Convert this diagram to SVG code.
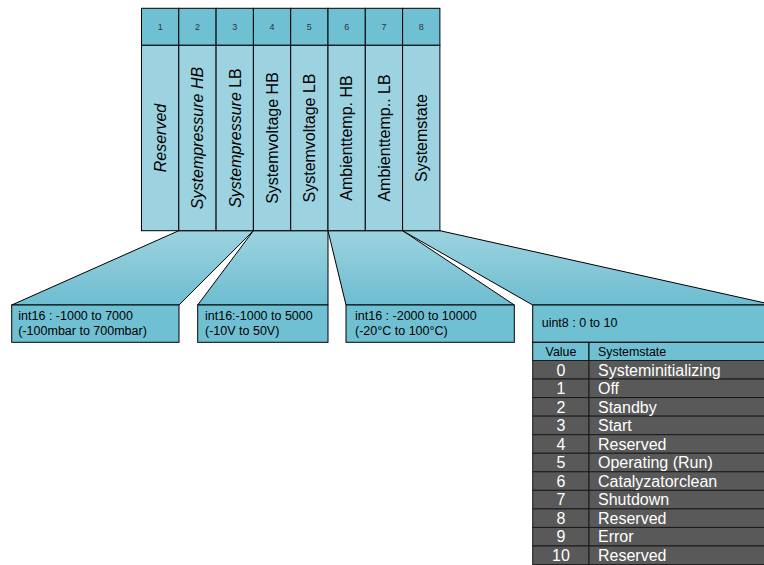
<svg xmlns="http://www.w3.org/2000/svg" width="764" height="565" viewBox="0 0 764 565">
  <style>
    .hd { fill: #70c0d3; stroke: #000; stroke-width: 1; }
    .bd { fill: #9dd3e0; stroke: #000; stroke-width: 1; }
    .fan { fill: url(#fanGrad); stroke: #000; stroke-width: 1; }
    .box { fill: #70c0d3; stroke: #000; stroke-width: 1; }
    .row { fill: #595959; stroke: #1a1a1a; stroke-width: 1; }
    .num { font-family: "Liberation Sans", Arial, sans-serif; font-size: 9px; fill: #333; text-anchor: middle; }
    .lbl { font-family: "Liberation Sans", Arial, sans-serif; font-size: 16px; fill: #000; text-anchor: middle; }
    .it { font-style: italic; }
    .bt { font-family: "Liberation Sans", Arial, sans-serif; font-size: 12.5px; fill: #000; }
    .th { font-family: "Liberation Sans", Arial, sans-serif; font-size: 12.4px; fill: #000; }
    .tv { font-family: "Liberation Sans", Arial, sans-serif; font-size: 16px; fill: #fff; text-anchor: middle; }
    .tn { font-family: "Liberation Sans", Arial, sans-serif; font-size: 16px; fill: #fff; }
  </style>
  <defs>
    <linearGradient id="fanGrad" gradientUnits="userSpaceOnUse" x1="0" y1="231" x2="0" y2="305">
      <stop offset="0" stop-color="#9dd3e0"/>
      <stop offset="1" stop-color="#6dbdd0"/>
    </linearGradient>
  </defs>

  <!-- fan-out connectors from the byte columns to the value descriptions -->
  <g id="connectors">
    <polygon class="fan" points="178.8,230.7 253.4,230.7 179,305 11.7,305"/>
    <polygon class="fan" points="253.4,230.7 328,230.7 328,305 197.7,305"/>
    <polygon class="fan" points="328,230.7 402.6,230.7 514.3,305 346,305"/>
    <polygon class="fan" points="402.6,230.7 439.9,230.7 774,305 532.7,305"/>
  </g>

  <!-- byte columns -->
  <g id="byte1">
    <rect class="hd" x="141.5" y="8.3" width="37.3" height="37"/>
    <rect class="bd" x="141.5" y="45.3" width="37.3" height="185.4"/>
    <text class="num" x="160.15" y="29.5">1</text>
    <text class="lbl it" transform="translate(160.15,138) rotate(-90)" dy="0.36em">Reserved</text>
  </g>
  <g id="byte2">
    <rect class="hd" x="178.8" y="8.3" width="37.3" height="37"/>
    <rect class="bd" x="178.8" y="45.3" width="37.3" height="185.4"/>
    <text class="num" x="197.45" y="29.5">2</text>
    <text class="lbl it" transform="translate(197.45,138) rotate(-90)" dy="0.36em">Systempressure HB</text>
  </g>
  <g id="byte3">
    <rect class="hd" x="216.1" y="8.3" width="37.3" height="37"/>
    <rect class="bd" x="216.1" y="45.3" width="37.3" height="185.4"/>
    <text class="num" x="234.75" y="29.5">3</text>
    <text class="lbl" transform="translate(234.75,138) rotate(-90)" dy="0.36em"><tspan class="it">Systempressure</tspan> LB</text>
  </g>
  <g id="byte4">
    <rect class="hd" x="253.4" y="8.3" width="37.3" height="37"/>
    <rect class="bd" x="253.4" y="45.3" width="37.3" height="185.4"/>
    <text class="num" x="272.05" y="29.5">4</text>
    <text class="lbl" transform="translate(272.05,138) rotate(-90)" dy="0.36em">Systemvoltage HB</text>
  </g>
  <g id="byte5">
    <rect class="hd" x="290.7" y="8.3" width="37.3" height="37"/>
    <rect class="bd" x="290.7" y="45.3" width="37.3" height="185.4"/>
    <text class="num" x="309.35" y="29.5">5</text>
    <text class="lbl" transform="translate(309.35,138) rotate(-90)" dy="0.36em">Systemvoltage LB</text>
  </g>
  <g id="byte6">
    <rect class="hd" x="328" y="8.3" width="37.3" height="37"/>
    <rect class="bd" x="328" y="45.3" width="37.3" height="185.4"/>
    <text class="num" x="346.65" y="29.5">6</text>
    <text class="lbl" transform="translate(346.65,138) rotate(-90)" dy="0.36em">Ambienttemp. HB</text>
  </g>
  <g id="byte7">
    <rect class="hd" x="365.3" y="8.3" width="37.3" height="37"/>
    <rect class="bd" x="365.3" y="45.3" width="37.3" height="185.4"/>
    <text class="num" x="383.95" y="29.5">7</text>
    <text class="lbl" transform="translate(383.95,138) rotate(-90)" dy="0.36em">Ambienttemp.. LB</text>
  </g>
  <g id="byte8">
    <rect class="hd" x="402.6" y="8.3" width="37.3" height="37"/>
    <rect class="bd" x="402.6" y="45.3" width="37.3" height="185.4"/>
    <text class="num" x="421.25" y="29.5">8</text>
    <text class="lbl" transform="translate(421.25,138) rotate(-90)" dy="0.36em">Systemstate</text>
  </g>

  <!-- value descriptions -->
  <g id="pressure">
    <rect class="box" x="11.7" y="305" width="167.3" height="37.3"/>
    <text class="bt" x="18.3" y="320">int16 : -1000 to 7000</text>
    <text class="bt" x="18.3" y="334.5">(-100mbar to 700mbar)</text>
  </g>
  <g id="voltage">
    <rect class="box" x="197.7" y="305" width="130.3" height="37.3"/>
    <text class="bt" x="205" y="320">int16:-1000 to 5000</text>
    <text class="bt" x="205" y="334.5">(-10V to 50V)</text>
  </g>
  <g id="temperature">
    <rect class="box" x="346" y="305" width="168.3" height="37.3"/>
    <text class="bt" x="355" y="320">int16 : -2000 to 10000</text>
    <text class="bt" x="355" y="334.5">(-20°C to 100°C)</text>
  </g>
  <g id="state">
    <rect class="box" x="532.7" y="305" width="240" height="37.3"/>
    <text class="bt" x="541.7" y="327">uint8 : 0 to 10</text>
    <!-- state table -->
    <rect class="box" x="532.7" y="342.3" width="56.3" height="18.2"/>
    <rect class="box" x="589" y="342.3" width="184" height="18.2"/>
    <text class="th" x="561" y="355.6" text-anchor="middle">Value</text>
    <text class="th" x="598" y="355.6">Systemstate</text>
    <g>
      <rect class="row" x="532.7" y="360.5" width="56.3" height="18.55"/><rect class="row" x="589" y="360.5" width="184" height="18.55"/>
      <rect class="row" x="532.7" y="379.05" width="56.3" height="18.55"/><rect class="row" x="589" y="379.05" width="184" height="18.55"/>
      <rect class="row" x="532.7" y="397.6" width="56.3" height="18.55"/><rect class="row" x="589" y="397.6" width="184" height="18.55"/>
      <rect class="row" x="532.7" y="416.15" width="56.3" height="18.55"/><rect class="row" x="589" y="416.15" width="184" height="18.55"/>
      <rect class="row" x="532.7" y="434.7" width="56.3" height="18.55"/><rect class="row" x="589" y="434.7" width="184" height="18.55"/>
      <rect class="row" x="532.7" y="453.25" width="56.3" height="18.55"/><rect class="row" x="589" y="453.25" width="184" height="18.55"/>
      <rect class="row" x="532.7" y="471.8" width="56.3" height="18.55"/><rect class="row" x="589" y="471.8" width="184" height="18.55"/>
      <rect class="row" x="532.7" y="490.35" width="56.3" height="18.55"/><rect class="row" x="589" y="490.35" width="184" height="18.55"/>
      <rect class="row" x="532.7" y="508.9" width="56.3" height="18.55"/><rect class="row" x="589" y="508.9" width="184" height="18.55"/>
      <rect class="row" x="532.7" y="527.45" width="56.3" height="18.55"/><rect class="row" x="589" y="527.45" width="184" height="18.55"/>
      <rect class="row" x="532.7" y="546" width="56.3" height="18.55"/><rect class="row" x="589" y="546" width="184" height="18.55"/>
    </g>
    <g>
      <text class="tv" x="561" y="375.5">0</text><text class="tn" x="598" y="375.5">Systeminitializing</text>
      <text class="tv" x="561" y="394.05">1</text><text class="tn" x="598" y="394.05">Off</text>
      <text class="tv" x="561" y="412.6">2</text><text class="tn" x="598" y="412.6">Standby</text>
      <text class="tv" x="561" y="431.15">3</text><text class="tn" x="598" y="431.15">Start</text>
      <text class="tv" x="561" y="449.7">4</text><text class="tn" x="598" y="449.7">Reserved</text>
      <text class="tv" x="561" y="468.25">5</text><text class="tn" x="598" y="468.25">Operating (Run)</text>
      <text class="tv" x="561" y="486.8">6</text><text class="tn" x="598" y="486.8">Catalyzatorclean</text>
      <text class="tv" x="561" y="505.35">7</text><text class="tn" x="598" y="505.35">Shutdown</text>
      <text class="tv" x="561" y="523.9">8</text><text class="tn" x="598" y="523.9">Reserved</text>
      <text class="tv" x="561" y="542.45">9</text><text class="tn" x="598" y="542.45">Error</text>
      <text class="tv" x="561" y="561">10</text><text class="tn" x="598" y="561">Reserved</text>
    </g>
  </g>
</svg>
